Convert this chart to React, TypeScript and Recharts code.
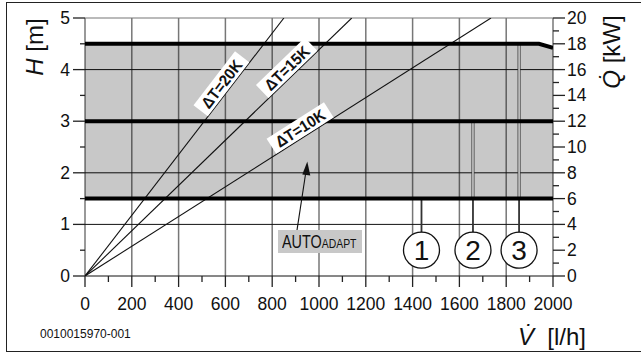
import React from "react";
import {
  Area,
  CartesianGrid,
  ComposedChart,
  Line,
  ReferenceDot,
  ReferenceLine,
  XAxis,
  YAxis,
} from "recharts";

// x: flow V [l/h], left y: head H [m], right y: heat output Q [kW]
const flowTicks = [0, 100, 200, 300, 400, 500, 600, 700, 800, 900, 1000, 1100, 1200, 1300, 1400, 1500, 1600, 1700, 1800, 1900, 2000];
const headTicks = [0, 0.5, 1, 1.5, 2, 2.5, 3, 3.5, 4, 4.5, 5];
const powerTicks = [0, 1, 2, 3, 4, 5, 6, 7, 8, 9, 10, 11, 12, 13, 14, 15, 16, 17, 18, 19, 20];
const gridFlow = [0, 200, 400, 600, 800, 1000, 1200, 1400, 1600, 1800, 2000];
const gridHead = [0, 1, 2, 3, 4];

// pump curves (constant pressure), the top one drops near max flow
const curve1 = [{ v: 0, h: 1.5 }, { v: 2000, h: 1.5 }];
const curve2 = [{ v: 0, h: 3 }, { v: 2000, h: 3 }];
const curve3 = [{ v: 0, h: 4.5 }, { v: 1940, h: 4.5 }, { v: 2000, h: 4.42 }];
// AUTOADAPT band between curve 1 and curve 3
const adaptBand = [
  { v: 0, band: [1.5, 4.5] },
  { v: 1940, band: [1.5, 4.5] },
  { v: 2000, band: [1.5, 4.42] },
];

// heat output lines for different spreads
const dt20 = [{ v: 0, q: 0 }, { v: 850, q: 20 }];
const dt15 = [{ v: 0, q: 0 }, { v: 1140, q: 20 }];
const dt10 = [{ v: 0, q: 0 }, { v: 1735, q: 20 }];
const dtLabels = [
  { text: "ΔT=20K", v: 615, q: 14.45, angle: 52.4 },
  { text: "ΔT=15K", v: 890, q: 15.6, angle: 44 },
  { text: "ΔT=10K", v: 941, q: 10.85, angle: 32.4 },
];

// callouts 1..3 with leader lines up to their curve
const callouts = [
  { n: "1", v: 1438, top: 1.5 },
  { n: "2", v: 1658, top: 3 },
  { n: "3", v: 1855, top: 4.5 },
];
const calloutH = 0.5;
const leaderBottom = 0.84;

const font = "'Liberation Sans', Arial, Helvetica, sans-serif";

function FlowTick(props: any) {
  const { x, y, payload } = props;
  const major = payload.value % 200 === 0;
  return (
    <g>
      <line x1={x} x2={x} y1={y} y2={y + (major ? 11 : 6)} stroke="#222" strokeWidth={1.3} />
      {major && (
        <text x={x} y={y + 34} textAnchor="middle" fontSize={17.5} fill="#111" fontFamily={font}>
          {payload.value}
        </text>
      )}
    </g>
  );
}

function HeadTick(props: any) {
  const { x, y, payload } = props;
  const major = Number.isInteger(payload.value);
  return (
    <g>
      <line x1={x - (major ? 12 : 5)} x2={x} y1={y} y2={y} stroke="#222" strokeWidth={1.3} />
      {major && (
        <text x={x - 15} y={y + 6} textAnchor="end" fontSize={17.5} fill="#111" fontFamily={font}>
          {payload.value}
        </text>
      )}
    </g>
  );
}

function PowerTick(props: any) {
  const { x, y, payload } = props;
  const major = payload.value % 2 === 0;
  return (
    <g>
      <line x1={x} x2={x + (major ? 12 : 6)} y1={y} y2={y} stroke="#222" strokeWidth={1.3} />
      {major && (
        <text x={x + 14} y={y + 6} textAnchor="start" fontSize={17.5} fill="#111" fontFamily={font}>
          {payload.value}
        </text>
      )}
    </g>
  );
}

function DtLabel({ cx, cy, text, angle }: any) {
  const rad = (angle * Math.PI) / 180;
  // shift the box to the upper-left side of its line
  const ox = cx - Math.sin(rad) * 9.5;
  const oy = cy - Math.cos(rad) * 9.5;
  return (
    <g transform={`translate(${ox},${oy}) rotate(${-angle})`}>
      <rect x={-34} y={-9} width={68} height={18} fill="#fff" />
      <text x={0} y={6} textAnchor="middle" fontSize={16} fontWeight="bold" fill="#111"
        fontFamily={font} textLength={56} lengthAdjust="spacingAndGlyphs">
        {text}
      </text>
    </g>
  );
}

function Callout({ cx, cy, n }: any) {
  return (
    <g>
      <circle cx={cx} cy={cy} r={18} fill="#fff" stroke="#111" strokeWidth={1.3} />
      <text x={cx} y={cy + 10} textAnchor="middle" fontSize={28} fill="#111" fontFamily={font}>
        {n}
      </text>
    </g>
  );
}

function ArrowHead({ cx, cy }: any) {
  return (
    <polygon
      points={`${cx},${cy} ${cx - 5},${cy + 13} ${cx + 3},${cy + 14}`}
      fill="#111"
    />
  );
}

export default function App() {
  return (
    <div style={{ position: "relative", width: 641, height: 353, background: "#fff", overflow: "hidden", fontFamily: font }}>
      <style>{"body{margin:0}"}</style>
      <div style={{ position: "absolute", left: 6, top: 2, width: 660, height: 348, border: "1.5px solid #222" }} />
      <ComposedChart width={641} height={353} margin={{ top: 18, right: 0, bottom: 0, left: 0 }} style={{ position: "absolute", left: 0, top: 0 }}>
        <CartesianGrid xAxisId="V" yAxisId="H" horizontal={false} verticalValues={gridFlow} stroke="#777" strokeWidth={1.5} />
        <CartesianGrid xAxisId="V" yAxisId="H" vertical={false} horizontalValues={gridHead} stroke="#111" strokeWidth={1} />
        <XAxis xAxisId="V" dataKey="v" type="number" domain={[0, 2000]} ticks={flowTicks} interval={0}
          height={77} tickSize={0} tickMargin={0} axisLine={false} tick={<FlowTick />} allowDataOverflow />
        <YAxis yAxisId="H" type="number" domain={[0, 5]} ticks={headTicks} interval={0}
          width={85} tickSize={0} tickMargin={0} axisLine={false} tick={<HeadTick />} allowDataOverflow />
        <YAxis yAxisId="Q" orientation="right" type="number" domain={[0, 20]} ticks={powerTicks} interval={0}
          width={88} tickSize={0} tickMargin={0} axisLine={false} tick={<PowerTick />} allowDataOverflow />
        <ReferenceLine xAxisId="V" yAxisId="H" y={5} stroke="#777" strokeWidth={1.2} />
        <Area xAxisId="V" yAxisId="H" data={adaptBand} dataKey="band" type="linear" stroke="none"
          fill="#000" fillOpacity={0.215} isAnimationActive={false} />
        <Line xAxisId="V" yAxisId="Q" data={dt20} dataKey="q" type="linear" stroke="#111" strokeWidth={1.1} dot={false} isAnimationActive={false} />
        <Line xAxisId="V" yAxisId="Q" data={dt15} dataKey="q" type="linear" stroke="#111" strokeWidth={1.1} dot={false} isAnimationActive={false} />
        <Line xAxisId="V" yAxisId="Q" data={dt10} dataKey="q" type="linear" stroke="#111" strokeWidth={1.1} dot={false} isAnimationActive={false} />
        {callouts.map((c) => (
          <Line key={"d" + c.n} xAxisId="V" yAxisId="H" data={[{ v: c.v, h: leaderBottom }, { v: c.v, h: curve1[0].h }]}
            dataKey="h" type="linear" stroke="#333" strokeWidth={1.8} dot={false} isAnimationActive={false} />
        ))}
        {callouts.map((c) => (
          <Line key={"l" + c.n} xAxisId="V" yAxisId="H" data={[{ v: c.v, h: curve1[0].h }, { v: c.v, h: c.top }]}
            dataKey="h" type="linear" stroke="#333" strokeWidth={3} dot={false} isAnimationActive={false} />
        ))}
        {callouts.map((c) => (
          <Line key={"w" + c.n} xAxisId="V" yAxisId="H" data={[{ v: c.v, h: curve1[0].h }, { v: c.v, h: c.top }]}
            dataKey="h" type="linear" stroke="#fff" strokeWidth={1.2} dot={false} isAnimationActive={false} />
        ))}
        <Line xAxisId="V" yAxisId="H" data={curve1} dataKey="h" type="linear" stroke="#000" strokeWidth={4} dot={false} isAnimationActive={false} />
        <Line xAxisId="V" yAxisId="H" data={curve2} dataKey="h" type="linear" stroke="#000" strokeWidth={4} dot={false} isAnimationActive={false} />
        <Line xAxisId="V" yAxisId="H" data={curve3} dataKey="h" type="linear" stroke="#000" strokeWidth={4} dot={false} isAnimationActive={false} />
        {callouts.map((c) => (
          <ReferenceDot key={"c" + c.n} xAxisId="V" yAxisId="H" x={c.v} y={calloutH}
            shape={(p: any) => <Callout cx={p.cx} cy={p.cy} n={c.n} />} />
        ))}
        <ReferenceLine xAxisId="V" yAxisId="H" segment={[{ x: 906, y: 0.89 }, { x: 945, y: 2.05 }]} stroke="#111" strokeWidth={1.1} />
        <ReferenceDot xAxisId="V" yAxisId="H" x={950} y={2.22} shape={(p: any) => <ArrowHead cx={p.cx} cy={p.cy} />} />
        {dtLabels.map((d) => (
          <ReferenceDot key={d.text} xAxisId="V" yAxisId="Q" x={d.v} y={d.q}
            shape={(p: any) => <DtLabel cx={p.cx} cy={p.cy} text={d.text} angle={d.angle} />} />
        ))}
      </ComposedChart>
      <div style={{ position: "absolute", left: 278, top: 230, width: 84, height: 23, background: "#c8c8c8", color: "#111" }}>
        <div style={{ position: "absolute", left: 4, top: 0, transformOrigin: "0 0", transform: "scaleX(0.8)", fontSize: 18, lineHeight: "24px", whiteSpace: "nowrap" }}>
          AUTO<span style={{ fontSize: 13 }}>ADAPT</span>
        </div>
      </div>
      <div style={{ position: "absolute", left: 35, top: 47, transform: "translate(-50%,-50%) rotate(-90deg)", fontSize: 24, whiteSpace: "nowrap", color: "#111" }}>
        <i>H</i> [m]
      </div>
      <div style={{ position: "absolute", left: 612, top: 52, transform: "translate(-50%,-50%) rotate(-90deg)", fontSize: 24, whiteSpace: "nowrap", color: "#111" }}>
        <i>{"Q\u0307"}</i> [kW]
      </div>
      <div style={{ position: "absolute", left: 518, top: 323, fontSize: 24, lineHeight: "28px", whiteSpace: "pre", color: "#111" }}>
        <i>{"V\u0307"}</i>{"  [l/h]"}
      </div>
      <div style={{ position: "absolute", left: 40, top: 326, fontSize: 12, lineHeight: "16px", whiteSpace: "nowrap", color: "#111" }}>
        0010015970-001
      </div>
    </div>
  );
}
